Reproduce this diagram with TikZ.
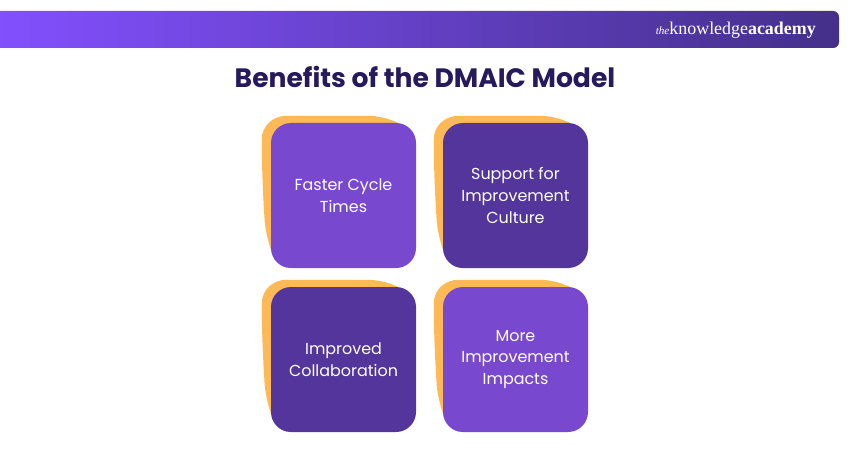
\documentclass[tikz,border=0pt]{standalone}
\usepackage{fontspec}
\setmainfont{Poppins}
\newfontfamily\logofont{Liberation Serif}
\usetikzlibrary{backgrounds}
\definecolor{blobOrange}{HTML}{FEB957}
\definecolor{cardLight}{HTML}{7848CF}
\definecolor{cardDark}{HTML}{53359B}
\definecolor{titleInk}{HTML}{261A5C}
\definecolor{barLeft}{HTML}{8350FF}
\definecolor{barRight}{HTML}{44308A}
\tikzset{
	card/.style={minimum width=4.35cm, minimum height=4.35cm, rounded corners=0.6cm, align=center,
		text=white, inner sep=0pt, font=\fontsize{13.6}{18.7}\selectfont},
}
\newcommand{\BLOB}[1]{%
	\begin{scope}[shift={(#1.north west)}]
		\fill[blobOrange] (16, -7) .. controls (40, -7) and (70, -7) .. (96, -7)
			.. controls (108, -7) and (118, -4) .. (127, 0) -- (16, 145)
			.. controls (8, 143) and (3, 135) .. (1, 129)
			.. controls (-3, 118) and (-5, 108) .. (-6, 99)
			.. controls (-8, 70) and (-9, 40) .. (-9, 17)
			.. controls (-9, 3) and (2, -7) .. (16, -7) -- cycle;
	\end{scope}%
}
\begin{document}
\begin{tikzpicture}[x=0.03cm, y=-0.03cm]
	\useasboundingbox (0, 0) rectangle (850, 450);

	% banner
	\path[left color=barLeft, right color=barRight, rounded corners=0.18cm] (-10, 11) rectangle (839, 48);
	\node[text=white, anchor=base east, inner sep=0pt, font=\logofont\fontsize{15.3}{15.3}\selectfont] (logo) at (816, 35) {{\itshape\fontsize{9.5}{9.5}\selectfont the}knowledge\textbf{academy}};
	\node[text=titleInk, font=\fontsize{22.7}{22.7}\selectfont\bfseries] (title) at (425, 77) {Benefits of the DMAIC Model};

	% cards
	\node[card, fill=cardLight] (faster) at (343.5, 195.5) {Faster Cycle\\Times};
	\node[card, fill=cardDark] (support) at (515.5, 195.5) {Support for\\Improvement\\Culture};
	\node[card, fill=cardDark] (collab) at (343.5, 359.5) {Improved\\Collaboration};
	\node[card, fill=cardLight] (impacts) at (515.5, 359.5) {More\\Improvement\\Impacts};

	\begin{scope}[on background layer]
		\fill[white] (0, 0) rectangle (850, 450);
		\BLOB{faster}
		\BLOB{support}
		\BLOB{collab}
		\BLOB{impacts}
	\end{scope}
\end{tikzpicture}
\end{document}
